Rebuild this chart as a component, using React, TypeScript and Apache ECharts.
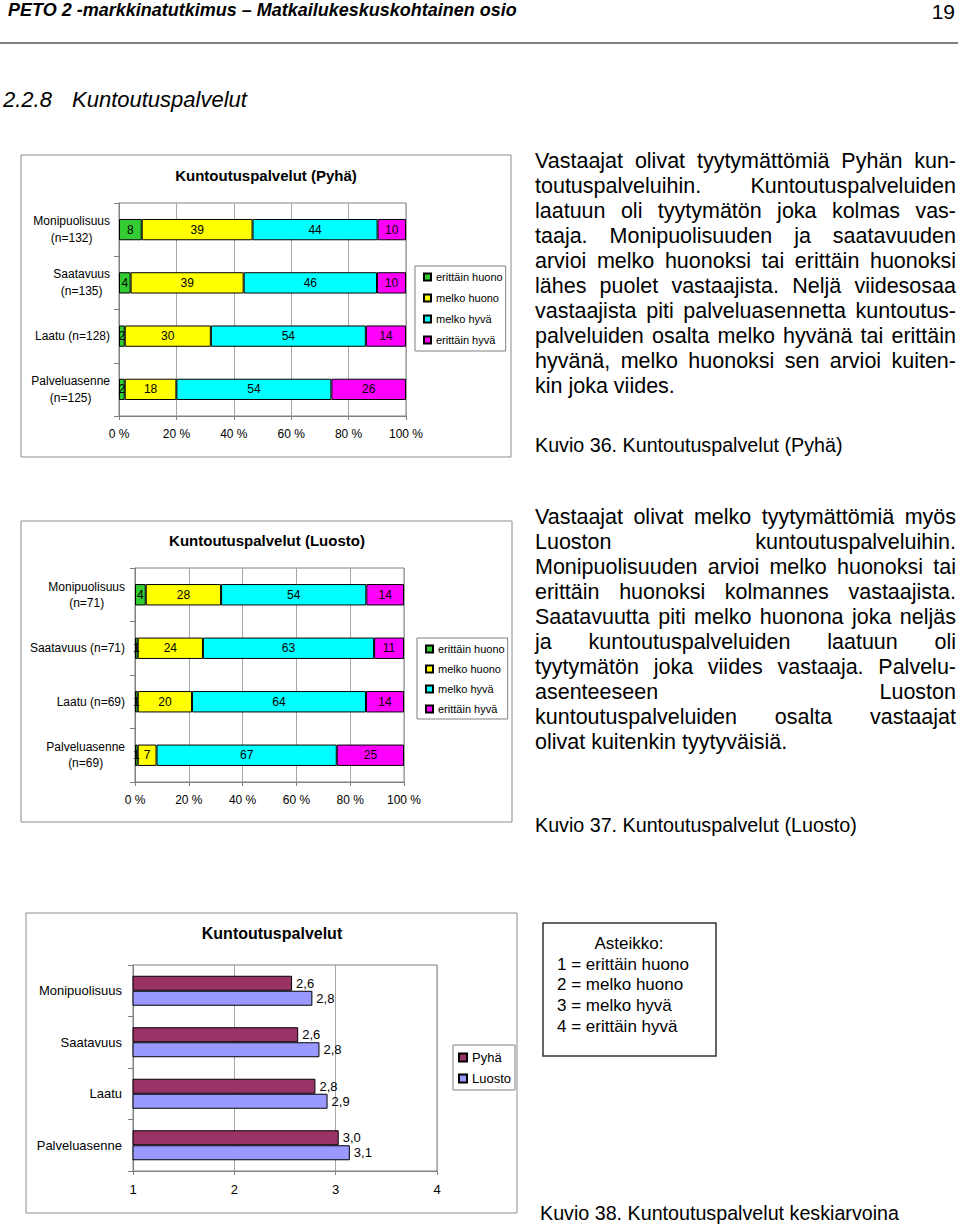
import React, { useEffect, useRef } from 'react';
import * as echarts from 'echarts';

const FONT = '"Liberation Sans", Arial, Helvetica, sans-serif';

// ---------- data ----------
const ratingNames = ['erittäin huono', 'melko huono', 'melko hyvä', 'erittäin hyvä'];
const ratingColors = ['#33cc33', '#ffff00', '#00ffff', '#ff00ff'];
const percentTicks = [0, 20, 40, 60, 80, 100];

const pyhaCategories = ['Monipuolisuus\n(n=132)', 'Saatavuus\n(n=135)', 'Laatu (n=128)', 'Palveluasenne\n(n=125)'];
const pyhaErittainHuono = [8, 4, 2, 2];
const pyhaMelkoHuono = [39, 39, 30, 18];
const pyhaMelkoHyva = [44, 46, 54, 54];
const pyhaErittainHyva = [10, 10, 14, 26];

const luostoCategories = ['Monipuolisuus\n(n=71)', 'Saatavuus (n=71)', 'Laatu (n=69)', 'Palveluasenne\n(n=69)'];
const luostoErittainHuono = [4, 1, 1, 1];
const luostoMelkoHuono = [28, 24, 20, 7];
const luostoMelkoHyva = [54, 63, 64, 67];
const luostoErittainHyva = [14, 11, 14, 25];

const meanCategories = ['Monipuolisuus', 'Saatavuus', 'Laatu', 'Palveluasenne'];
const meanSeriesNames = ['Pyhä', 'Luosto'];
const meanPyha = [2.57, 2.63, 2.8, 3.03];
const meanLuosto = [2.77, 2.84, 2.92, 3.14];
const meanTicks = [1, 2, 3, 4];
const meanColors = ['#993366', '#9999ff'];

const scaleLines = ['1 = erittäin huono', '2 = melko huono', '3 = melko hyvä', '4 = erittäin hyvä'];

const para1 = [
  'Vastaajat olivat tyytymättömiä Pyhän kun-',
  'toutuspalveluihin. Kuntoutuspalveluiden',
  'laatuun oli tyytymätön joka kolmas vas-',
  'taaja. Monipuolisuuden ja saatavuuden',
  'arvioi melko huonoksi tai erittäin huonoksi',
  'lähes puolet vastaajista. Neljä viidesosaa',
  'vastaajista piti palveluasennetta kuntoutus-',
  'palveluiden osalta melko hyvänä tai erittäin',
  'hyvänä, melko huonoksi sen arvioi kuiten-',
  'kin joka viides.',
];
const para2 = [
  'Vastaajat olivat melko tyytymättömiä myös',
  'Luoston kuntoutuspalveluihin.',
  'Monipuolisuuden arvioi melko huonoksi tai',
  'erittäin huonoksi kolmannes vastaajista.',
  'Saatavuutta piti melko huonona joka neljäs',
  'ja kuntoutuspalveluiden laatuun oli',
  'tyytymätön joka viides vastaaja. Palvelu-',
  'asenteeseen Luoston',
  'kuntoutuspalveluiden osalta vastaajat',
  'olivat kuitenkin tyytyväisiä.',
];

// ---------- helpers ----------
const normalize = (rows: number[][]) => {
  const n = rows[0].length;
  const sums = Array.from({ length: n }, (_, j) => rows.reduce((s, r) => s + r[j], 0));
  return rows.map((r) => r.map((v, j) => (v / sums[j]) * 100));
};

const catAxis = (gridIndex: number, data: string[], fontSize: number, lineHeight: number, margin: number) => ({
  type: 'category',
  gridIndex,
  data,
  inverse: true,
  axisLine: { show: true, lineStyle: { color: '#808080', width: 1 } },
  axisTick: { show: true, length: 5, lineStyle: { color: '#808080' } },
  splitLine: { show: false },
  axisLabel: {
    margin,
    color: '#000',
    fontSize,
    fontFamily: FONT,
    formatter: (v: string) => v.split('\n').map((l) => `{c|${l}}`).join('\n'),
    rich: { c: { align: 'center', fontSize, lineHeight, fontFamily: FONT, color: '#000' } },
  },
});

const valAxis = (gridIndex: number, min: number, max: number, interval: number, fontSize: number, fmt: string) => ({
  type: 'value',
  gridIndex,
  min,
  max,
  interval,
  axisLine: { show: true, lineStyle: { color: '#808080', width: 1 } },
  axisTick: { show: true, length: 4, lineStyle: { color: '#808080' } },
  axisLabel: { formatter: fmt, fontSize, color: '#000', margin: 12, fontFamily: FONT },
  splitLine: { show: true, lineStyle: { color: '#a6a6a6', width: 1 } },
});

const stackedSeries = (rows: number[][], axisIndex: number, stack: string) => {
  const norm = normalize(rows);
  return ratingNames.map((name, i) => ({
    type: 'bar',
    name,
    stack,
    xAxisIndex: axisIndex,
    yAxisIndex: axisIndex,
    barCategoryGap: '60%',
    data: norm[i],
    itemStyle: { color: ratingColors[i], borderColor: '#000', borderWidth: 1 },
    label: {
      show: true,
      position: 'inside',
      color: '#000',
      fontSize: 12,
      fontFamily: FONT,
      textBorderWidth: 0,
      formatter: (p: any) => String(rows[i][p.dataIndex]),
    },
  }));
};

const legendBox = (left: number, top: number, names: string[], opts: any) => ({
  orient: 'vertical',
  left,
  top,
  icon: 'rect',
  selectedMode: false,
  borderColor: '#808080',
  borderWidth: 1,
  backgroundColor: '#fff',
  data: names,
  ...opts,
});

const titleText = (text: string, x: number, y: number, size: number) => ({
  type: 'text',
  x,
  y,
  style: {
    text,
    fontSize: size,
    fontWeight: 'bold',
    fontFamily: FONT,
    fill: '#000',
    align: 'center',
    verticalAlign: 'middle',
    textAlign: 'center',
    textVerticalAlign: 'middle',
  },
});

const frame = (x: number, y: number, w: number, h: number, color = '#8c8c8c', lw = 1) => ({
  type: 'rect',
  shape: { x, y, width: w, height: h },
  style: { fill: 'none', stroke: color, lineWidth: lw },
  z: 0,
});

function App() {
  const ref = useRef<HTMLDivElement>(null);

  useEffect(() => {
    if (!ref.current) return;
    const chart = echarts.init(ref.current, undefined, { renderer: 'svg' });

    const pyhaRows = [pyhaErittainHuono, pyhaMelkoHuono, pyhaMelkoHyva, pyhaErittainHyva];
    const luostoRows = [luostoErittainHuono, luostoMelkoHuono, luostoMelkoHyva, luostoErittainHyva];

    const option: any = {
      animation: false,
      textStyle: { fontFamily: FONT },
      grid: [
        { left: 119, top: 203, width: 287, height: 213, show: true, borderColor: '#808080', borderWidth: 1, backgroundColor: '#fff' },
        { left: 135, top: 568, width: 269, height: 214, show: true, borderColor: '#808080', borderWidth: 1, backgroundColor: '#fff' },
        { left: 133, top: 965, width: 304, height: 206, show: true, borderColor: '#808080', borderWidth: 1, backgroundColor: '#fff' },
      ],
      xAxis: [
        valAxis(0, percentTicks[0], percentTicks[percentTicks.length - 1], 20, 12, '{value} %'),
        valAxis(1, percentTicks[0], percentTicks[percentTicks.length - 1], 20, 12, '{value} %'),
        valAxis(2, meanTicks[0], meanTicks[meanTicks.length - 1], 1, 13, '{value}'),
      ],
      yAxis: [
        catAxis(0, pyhaCategories, 12, 17, 9),
        catAxis(1, luostoCategories, 12, 16, 10),
        catAxis(2, meanCategories, 13, 16, 11),
      ],
      legend: [
        legendBox(415, 266, ratingNames, {
          itemWidth: 7, itemHeight: 7, itemGap: 7, padding: [4, 3, 4, 8],
          textStyle: { fontSize: 11, lineHeight: 14, fontFamily: FONT, color: '#000' },
        }),
        legendBox(417, 638, ratingNames, {
          itemWidth: 7, itemHeight: 7, itemGap: 6, padding: [4, 3, 3, 8],
          textStyle: { fontSize: 11, lineHeight: 14, fontFamily: FONT, color: '#000' },
        }),
        legendBox(453, 1045, meanSeriesNames, {
          itemWidth: 8, itemHeight: 8, itemGap: 6, padding: [5, 4, 4, 5],
          textStyle: { fontSize: 13, lineHeight: 15, fontFamily: FONT, color: '#000' },
        }),
      ],
      series: [
        ...stackedSeries(pyhaRows, 0, 'pyha'),
        ...stackedSeries(luostoRows, 1, 'luosto'),
        ...[meanPyha, meanLuosto].map((vals, i) => ({
          type: 'bar',
          name: meanSeriesNames[i],
          xAxisIndex: 2,
          yAxisIndex: 2,
          data: vals,
          barWidth: 15,
          barGap: '0%',
          clip: true,
          itemStyle: { color: meanColors[i], borderColor: '#000', borderWidth: 1 },
          label: {
            show: true,
            position: 'right',
            distance: 4,
            color: '#000',
            fontSize: 13,
            fontFamily: FONT,
            formatter: (p: any) => Number(p.value).toFixed(1).replace('.', ','),
          },
        })),
      ],
      graphic: [
        frame(21, 155, 490, 302),
        frame(21, 521, 491, 301),
        frame(26, 913, 491, 300),
        titleText('Kuntoutuspalvelut (Pyhä)', 266, 175, 15),
        titleText('Kuntoutuspalvelut (Luosto)', 267, 540, 15),
        titleText('Kuntoutuspalvelut', 272, 933, 16),
        frame(543, 923, 173, 133, '#333', 1.5),
        {
          type: 'text',
          x: 629,
          y: 943,
          style: {
            text: 'Asteikko:', fontSize: 17, fontFamily: FONT, fill: '#000',
            align: 'center', verticalAlign: 'middle', textAlign: 'center', textVerticalAlign: 'middle',
          },
        },
        ...scaleLines.map((t, i) => ({
          type: 'text',
          x: 557,
          y: 964 + i * 20.8,
          style: {
            text: t, fontSize: 17, fontFamily: FONT, fill: '#000',
            align: 'left', verticalAlign: 'middle', textAlign: 'left', textVerticalAlign: 'middle',
          },
        })),
      ],
    };

    chart.setOption(option);
    return () => chart.dispose();
  }, []);

  const bodyFont: React.CSSProperties = { fontFamily: FONT, color: '#000' };

  const paraLines = (lines: string[], top: number) =>
    lines.map((l, i) => (
      <div
        key={top + '-' + i}
        style={{
          ...bodyFont,
          position: 'absolute',
          left: 535,
          top: top + i * 25,
          width: 421,
          height: 25,
          fontSize: 21.5,
          lineHeight: '25px',
          textAlign: 'justify',
          textAlignLast: i === lines.length - 1 ? 'left' : 'justify',
        } as React.CSSProperties}
      >
        {l}
      </div>
    ));

  const caption = (text: string, left: number, top: number) => (
    <div style={{ ...bodyFont, position: 'absolute', left, top, fontSize: 19.7, lineHeight: '24px', whiteSpace: 'nowrap' }}>{text}</div>
  );

  return (
    <div style={{ position: 'absolute', left: 0, top: 0, width: 960, height: 1224, background: '#fff', overflow: 'hidden' }}>
      <div ref={ref} style={{ position: 'absolute', left: 0, top: 0, width: 960, height: 1224 }} />
      <div style={{ ...bodyFont, position: 'absolute', left: 8, top: 0, fontSize: 18, lineHeight: '20px', fontWeight: 'bold', fontStyle: 'italic', whiteSpace: 'nowrap' }}>
        PETO 2 -markkinatutkimus – Matkailukeskuskohtainen osio
      </div>
      <div style={{ ...bodyFont, position: 'absolute', right: 5, top: 1, fontSize: 21, lineHeight: '22px' }}>19</div>
      <div style={{ position: 'absolute', left: 0, top: 42, width: 958, height: 2, background: '#808080' }} />
      <div style={{ ...bodyFont, position: 'absolute', left: 3, top: 87, fontSize: 22, lineHeight: '26px', fontStyle: 'italic', whiteSpace: 'nowrap' }}>2.2.8</div>
      <div style={{ ...bodyFont, position: 'absolute', left: 72, top: 87, fontSize: 22, lineHeight: '26px', fontStyle: 'italic', whiteSpace: 'nowrap' }}>Kuntoutuspalvelut</div>
      {paraLines(para1, 149)}
      {caption('Kuvio 36. Kuntoutuspalvelut (Pyhä)', 535, 433)}
      {paraLines(para2, 505)}
      {caption('Kuvio 37. Kuntoutuspalvelut (Luosto)', 535, 813)}
      {caption('Kuvio 38. Kuntoutuspalvelut keskiarvoina', 540, 1201)}
    </div>
  );
}

export default App;
